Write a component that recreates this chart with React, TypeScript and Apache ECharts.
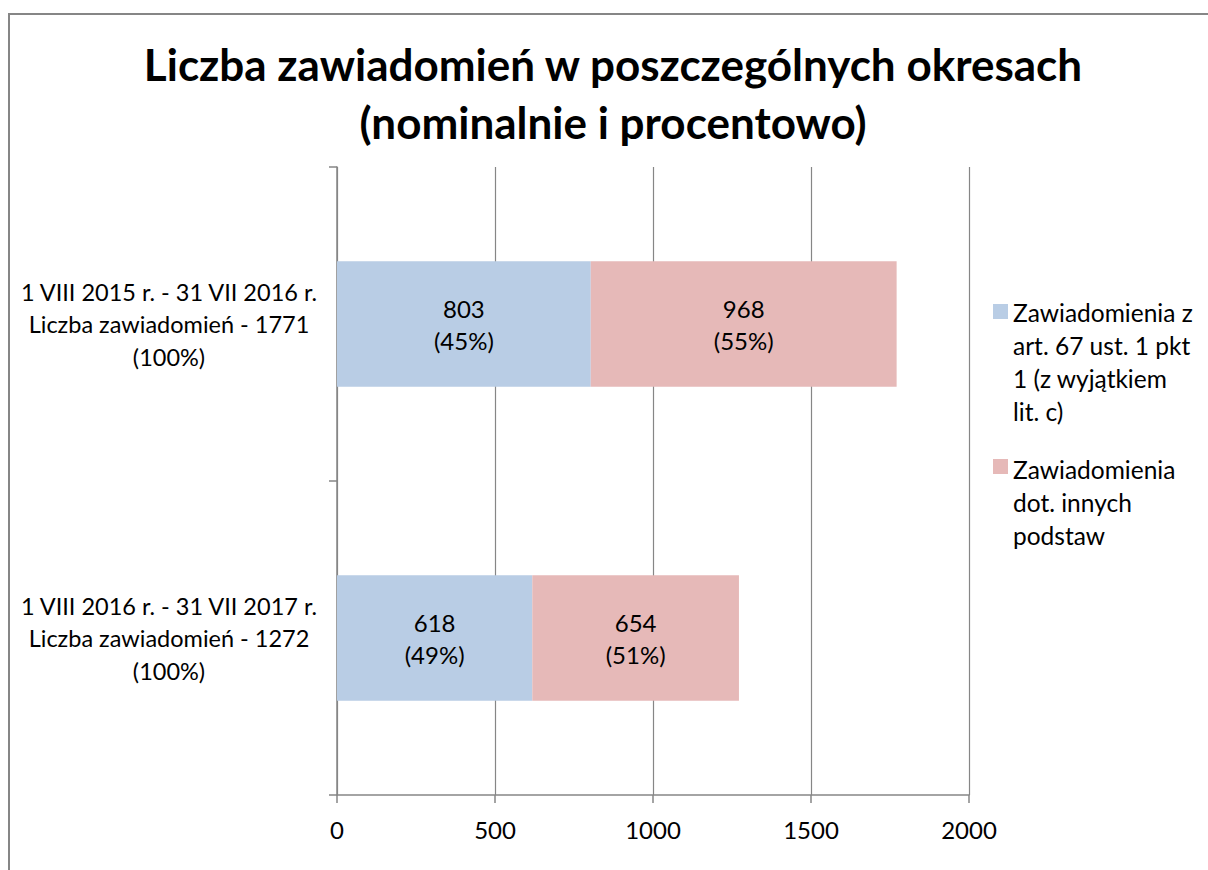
import React, { useEffect, useRef } from "react";
import * as echarts from "echarts";

const categories = [
  "1 VIII 2015 r. - 31 VII 2016 r.\nLiczba zawiadomień - 1771\n(100%)",
  "1 VIII 2016 r. - 31 VII 2017 r.\nLiczba zawiadomień - 1272\n(100%)",
];
const seriesNames = [
  "Zawiadomienia z\nart. 67 ust. 1 pkt\n1 (z wyjątkiem\nlit. c)",
  "Zawiadomienia\ndot. innych\npodstaw",
];
const art67Values = [803, 618];
const art67Pct = [45, 49];
const otherValues = [968, 654];
const otherPct = [55, 51];
const xTicks = { min: 0, max: 2000, interval: 500 };

const FONT = "Lato, 'Open Sans', sans-serif";
const GREY = "#868686";

export default function App() {
  const ref = useRef<HTMLDivElement>(null);
  useEffect(() => {
    if (!ref.current) return;
    const chart = echarts.init(ref.current, null, { renderer: "svg" });
    const labelFor = (pcts: number[]) => ({
      show: true,
      position: "inside",
      color: "#000",
      fontSize: 24,
      lineHeight: 32,
      fontFamily: FONT,
      formatter: (p: any) => `${p.value}\n(${pcts[p.dataIndex]}%)`,
    });
    chart.setOption({
      animation: false,
      backgroundColor: "#fff",
      textStyle: { fontFamily: FONT },
      title: {
        text: "Liczba zawiadomień w poszczególnych okresach\n(nominalnie i procentowo)",
        left: 613,
        top: 35,
        padding: 0,
        textAlign: "center",
        textStyle: {
          fontSize: 44,
          fontWeight: "bold",
          lineHeight: 58,
          color: "#000",
          fontFamily: FONT,
        },
      },
      graphic: [
        {
          type: "rect",
          shape: { x: 9, y: 14, width: 1300, height: 1000 },
          style: { fill: "none", stroke: GREY, lineWidth: 2 },
          silent: true,
          z: 100,
        },
      ],
      legend: [
        {
          data: [
            {
              name: seriesNames[0],
              icon: "path://M0,0H0.01V0.01H0Z M0,8H15V23H0Z M14.99,131.99H15V132H14.99Z",
            },
          ],
          left: 993,
          top: 296,
          orient: "vertical",
          padding: 0,
          itemWidth: 15,
          itemHeight: 132,
          itemGap: 0,
          selectedMode: false,
          textStyle: { fontSize: 24.5, lineHeight: 33, color: "#000", fontFamily: FONT },
        },
        {
          data: [
            {
              name: seriesNames[1],
              icon: "path://M0,0H0.01V0.01H0Z M0,6H15V21H0Z M14.99,98.99H15V99H14.99Z",
            },
          ],
          left: 993,
          top: 453,
          orient: "vertical",
          padding: 0,
          itemWidth: 15,
          itemHeight: 99,
          itemGap: 0,
          selectedMode: false,
          textStyle: { fontSize: 24.5, lineHeight: 33, color: "#000", fontFamily: FONT },
        },
      ],
      grid: { left: 337, right: 239, top: 167, bottom: 75, containLabel: false },
      xAxis: {
        type: "value",
        min: xTicks.min,
        max: xTicks.max,
        interval: xTicks.interval,
        axisLine: { show: true, lineStyle: { color: GREY, width: 1.5 } },
        axisTick: { show: true, length: 8, lineStyle: { color: GREY, width: 1.5 } },
        splitLine: { show: true, lineStyle: { color: GREY, width: 1.2 } },
        axisLabel: {
          fontSize: 24,
          color: "#000",
          margin: 22,
          fontFamily: FONT,
          formatter: (v: number) => String(v),
        },
      },
      yAxis: {
        type: "category",
        data: categories,
        inverse: true,
        axisLine: { show: true, lineStyle: { color: GREY, width: 1.5 } },
        axisTick: { show: true, length: 8, alignWithLabel: false, lineStyle: { color: GREY, width: 1.5 } },
        splitLine: { show: false },
        axisLabel: {
          fontSize: 23.5,
          lineHeight: 32.5,
          color: "#000",
          align: "center",
          margin: 168,
          fontFamily: FONT,
        },
      },
      series: [
        {
          name: seriesNames[0],
          type: "bar",
          stack: "total",
          barWidth: "40%",
          data: art67Values,
          itemStyle: { color: "#B9CDE5" },
          label: labelFor(art67Pct),
        },
        {
          name: seriesNames[1],
          type: "bar",
          stack: "total",
          barWidth: "40%",
          data: otherValues,
          itemStyle: { color: "#E6B9B8" },
          label: labelFor(otherPct),
        },
      ],
    });
    return () => chart.dispose();
  }, []);
  return (
    <div
      ref={ref}
      style={{ position: "absolute", left: 0, top: 0, width: 1208, height: 870 }}
    />
  );
}
